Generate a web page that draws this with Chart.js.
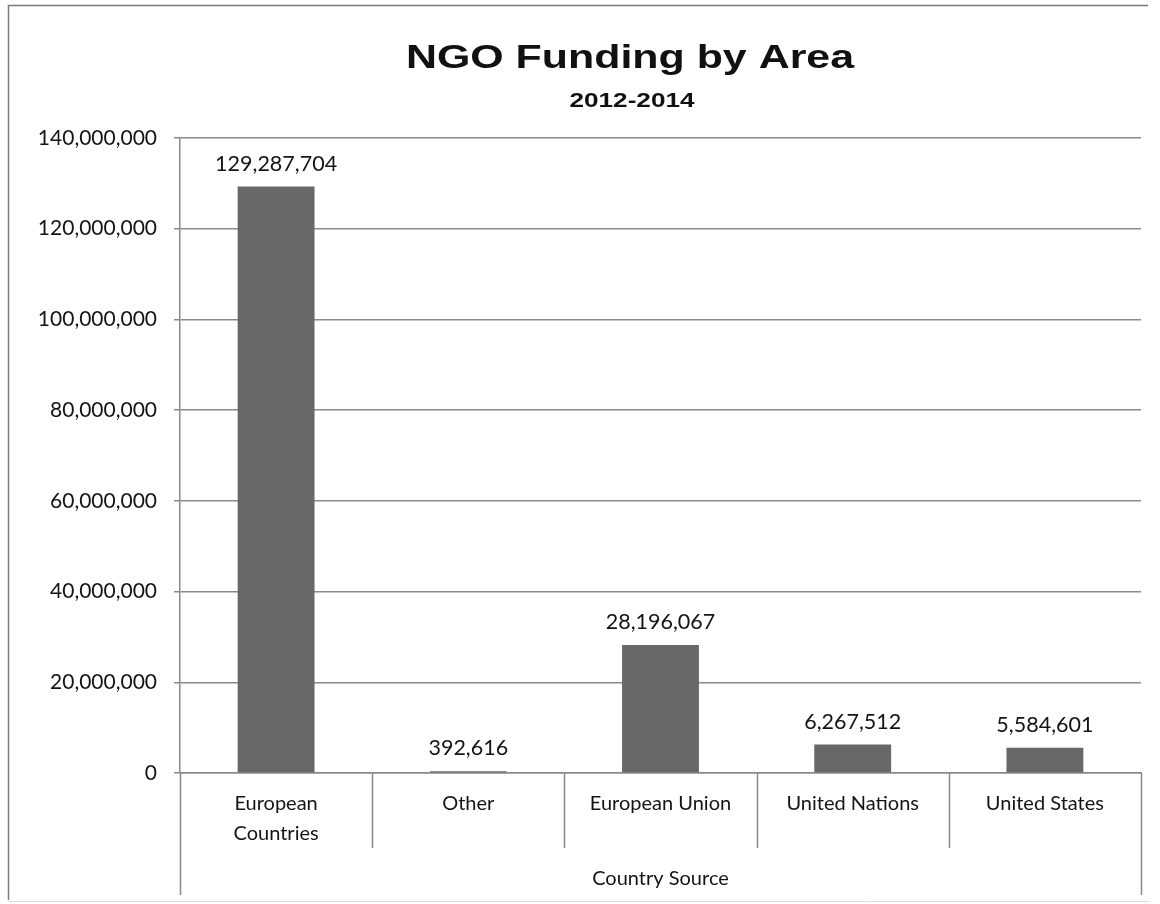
<!DOCTYPE html>
<html>
<head>
<meta charset="utf-8">
<script src="https://cdn.jsdelivr.net/npm/chart.js@4.4.1/dist/chart.umd.min.js"></script>
<style>
  html, body { margin: 0; padding: 0; background: #fff; }
  #wrap { width: 1160px; height: 904px; position: relative; }
</style>
</head>
<body>
<div id="wrap"><canvas id="c" width="1160" height="904"></canvas></div>
<script>
const categories = [['European', 'Countries'], 'Other', 'European Union', 'United Nations', 'United States'];
const funding = [129287704, 392616, 28196067, 6267512, 5584601];
const yTicks = [0, 20000000, 40000000, 60000000, 80000000, 100000000, 120000000, 140000000];
const chartTitle = 'NGO Funding by Area';
const chartSubtitle = '2012-2014';
const xAxisTitle = 'Country Source';

const TEXT = '#141414';
const LINE = '#8a8a8a';
const LABEL_FONT = 'Lato, "Open Sans", sans-serif';

const fmt = v => v.toLocaleString('en-US');

const decorPlugin = {
  id: 'decor',
  afterDraw(chart) {
    const ctx = chart.ctx;
    const area = chart.chartArea;
    const xs = chart.scales.x;
    const n = categories.length;
    ctx.save();
    // outer frame (left and top edges)
    ctx.strokeStyle = '#7a7a7a';
    ctx.lineWidth = 1.5;
    ctx.beginPath();
    ctx.moveTo(8.5, 900);
    ctx.lineTo(8.5, 5.5);
    ctx.lineTo(1148, 5.5);
    ctx.stroke();
    ctx.strokeStyle = '#dddddd';
    ctx.lineWidth = 1;
    ctx.beginPath();
    ctx.moveTo(8.5, 901.5);
    ctx.lineTo(1150, 901.5);
    ctx.stroke();

    // category dividers below axis
    ctx.strokeStyle = LINE;
    ctx.lineWidth = 1.5;
    for (let i = 0; i <= n; i++) {
      const x = Math.round(xs.getPixelForValue(i - 0.5)) + 0.5;
      const yEnd = (i === 0 || i === n) ? area.bottom + 122 : area.bottom + 75;
      ctx.beginPath();
      ctx.moveTo(x, area.bottom);
      ctx.lineTo(x, yEnd);
      ctx.stroke();
    }

    // data labels
    const meta = chart.getDatasetMeta(0);
    ctx.fillStyle = TEXT;
    ctx.font = '21.5px ' + LABEL_FONT;
    ctx.textAlign = 'center';
    ctx.textBaseline = 'alphabetic';
    meta.data.forEach((bar, i) => {
      ctx.fillText(fmt(funding[i]), bar.x, bar.y - 16);
    });

    // title and subtitle (horizontally stretched like the source)
    ctx.fillStyle = '#111111';
    ctx.textAlign = 'center';
    ctx.save();
    ctx.translate(630, 68);
    ctx.scale(1.32, 1);
    ctx.font = 'bold 32.5px "Liberation Sans", Arial, sans-serif';
    ctx.fillText(chartTitle, 0, 0);
    ctx.restore();
    ctx.save();
    ctx.translate(632, 107);
    ctx.scale(1.34, 1);
    ctx.font = 'bold 19.5px "Liberation Sans", Arial, sans-serif';
    ctx.fillText(chartSubtitle, 0, 0);
    ctx.restore();
    ctx.restore();
  }
};

new Chart(document.getElementById('c'), {
  type: 'bar',
  data: {
    labels: categories,
    datasets: [{
      data: funding,
      backgroundColor: '#686868',
      borderWidth: 0,
      categoryPercentage: 1.0,
      barPercentage: 0.4
    }]
  },
  options: {
    responsive: false,
    animation: false,
    devicePixelRatio: 1,
    layout: { padding: { left: 8, right: 19, top: 138, bottom: 9 } },
    plugins: {
      legend: { display: false },
      tooltip: { enabled: false },
      title: { display: false }
    },
    scales: {
      x: {
        offset: true,
        grid: { display: false },
        border: { display: true, color: LINE, width: 1.5 },
        ticks: {
          color: TEXT,
          font: { family: LABEL_FONT, size: 20, lineHeight: 1.5 },
          padding: 8,
          maxRotation: 0,
          autoSkip: false
        },
        title: {
          display: true,
          text: xAxisTitle,
          color: TEXT,
          font: { family: LABEL_FONT, size: 20 },
          padding: { top: 0, bottom: 4 }
        },
        afterFit(scale) { scale.height = 122; }
      },
      y: {
        min: 0,
        max: 140000000,
        afterBuildTicks(scale) { scale.ticks = yTicks.map(v => ({ value: v })); },
        grid: { color: LINE, lineWidth: 1.5, tickLength: 6, drawTicks: true },
        border: { display: true, color: LINE, width: 1.5 },
        ticks: {
          color: TEXT,
          font: { family: LABEL_FONT, size: 21 },
          padding: 17,
          callback: v => fmt(v)
        },
        afterFit(scale) { scale.width = 172; }
      }
    }
  },
  plugins: [decorPlugin]
});
</script>
</body>
</html>
